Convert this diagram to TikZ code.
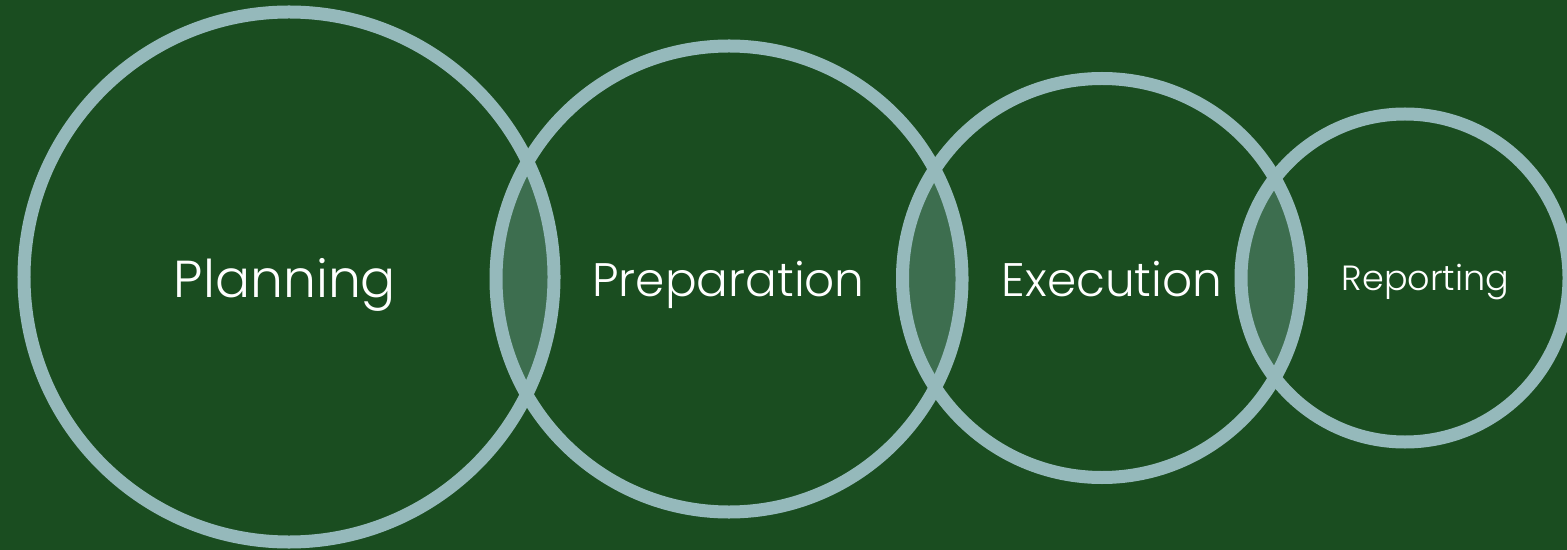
\documentclass[tikz,border=0pt]{standalone}
\usepackage{fontspec}
\IfFontExistsTF{Poppins Light}{\setmainfont{Poppins Light}}{\setmainfont{Poppins}}
\definecolor{bg}{HTML}{1A4D20}
\definecolor{ring}{HTML}{95B9BB}
\definecolor{lens}{HTML}{3D6E4F}
\tikzset{
  ringline/.style={draw=ring, line width=13bp},
  label/.style={text=white, anchor=base, inner sep=0pt}
}
\begin{document}
\begin{tikzpicture}[x=1bp,y=-1bp]
\fill[bg] (0,0) rectangle (1567,550);
\clip (0,0) rectangle (1567,550);
\coordinate (c1) at (289,277);
\coordinate (c2) at (729,279);
\coordinate (c3) at (1102,278);
\coordinate (c4) at (1405,278);
% lenses
\begin{scope}
  \clip (c1) circle[radius=265bp];
  \fill[lens] (c2) circle[radius=233bp];
\end{scope}
\begin{scope}
  \clip (c2) circle[radius=233bp];
  \fill[lens] (c3) circle[radius=199.5bp];
\end{scope}
\begin{scope}
  \clip (c3) circle[radius=199.5bp];
  \fill[lens] (c4) circle[radius=164bp];
\end{scope}
% rings
\draw[ringline] (c1) circle[radius=265bp];
\draw[ringline] (c2) circle[radius=233bp];
\draw[ringline] (c3) circle[radius=199.5bp];
\draw[ringline] (c4) circle[radius=164bp];
% labels
\node[label, font=\fontsize{52bp}{55bp}\selectfont] (t1) at (285,298) {Planning};
\node[label, font=\fontsize{47bp}{50bp}\selectfont] (t2) at (728.5,297) {Preparation};
\node[label, font=\fontsize{47bp}{50bp}\selectfont] (t3) at (1112,297) {Execution};
\node[label, font=\fontsize{35bp}{38bp}\selectfont] (t4) at (1425.5,291) {Reporting};
\end{tikzpicture}
\end{document}
